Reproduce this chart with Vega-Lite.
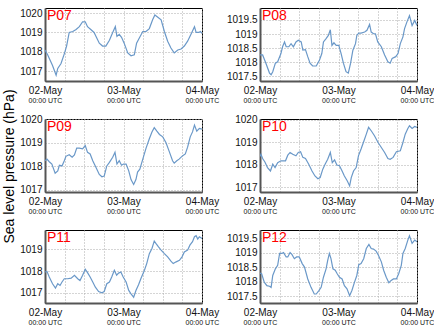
{
  "$schema": "https://vega.github.io/schema/vega-lite/v6.json",
  "padding": {"left": 3, "top": 7, "right": 5, "bottom": 2},
  "background": "white",
  "title": {"text": "Sea level pressure (hPa)", "orient": "left", "anchor": "middle", "fontSize": 14, "fontWeight": "normal", "font": "Liberation Sans", "color": "#000", "offset": 2},
  "datasets": {
    "p07": [
      {"t":"2024-05-02T00:00:00Z","v":1018.1},{"t":"2024-05-02T00:48:00Z","v":1017.85},{"t":"2024-05-02T02:18:00Z","v":1017.3},{"t":"2024-05-02T03:24:00Z","v":1016.8},{"t":"2024-05-02T03:54:00Z","v":1017.15},{"t":"2024-05-02T04:54:00Z","v":1017.4},{"t":"2024-05-02T05:54:00Z","v":1017.9},{"t":"2024-05-02T06:36:00Z","v":1018.3},{"t":"2024-05-02T07:24:00Z","v":1019.0},{"t":"2024-05-02T08:30:00Z","v":1019.05},{"t":"2024-05-02T09:30:00Z","v":1019.15},{"t":"2024-05-02T10:30:00Z","v":1019.3},{"t":"2024-05-02T11:30:00Z","v":1019.55},{"t":"2024-05-02T12:18:00Z","v":1019.55},{"t":"2024-05-02T13:00:00Z","v":1019.3},{"t":"2024-05-02T14:00:00Z","v":1019.15},{"t":"2024-05-02T15:00:00Z","v":1019.0},{"t":"2024-05-02T16:36:00Z","v":1018.45},{"t":"2024-05-02T17:36:00Z","v":1018.3},{"t":"2024-05-02T18:36:00Z","v":1018.3},{"t":"2024-05-02T19:42:00Z","v":1018.6},{"t":"2024-05-02T20:42:00Z","v":1019.0},{"t":"2024-05-02T21:30:00Z","v":1019.3},{"t":"2024-05-02T22:00:00Z","v":1018.8},{"t":"2024-05-02T22:42:00Z","v":1018.9},{"t":"2024-05-02T23:24:00Z","v":1018.75},{"t":"2024-05-03T00:12:00Z","v":1018.45},{"t":"2024-05-03T01:18:00Z","v":1017.95},{"t":"2024-05-03T02:18:00Z","v":1017.8},{"t":"2024-05-03T03:18:00Z","v":1017.85},{"t":"2024-05-03T04:00:00Z","v":1018.45},{"t":"2024-05-03T04:48:00Z","v":1018.7},{"t":"2024-05-03T05:54:00Z","v":1019.05},{"t":"2024-05-03T06:54:00Z","v":1019.05},{"t":"2024-05-03T07:54:00Z","v":1019.2},{"t":"2024-05-03T08:54:00Z","v":1019.65},{"t":"2024-05-03T09:36:00Z","v":1019.9},{"t":"2024-05-03T10:24:00Z","v":1019.8},{"t":"2024-05-03T11:30:00Z","v":1019.65},{"t":"2024-05-03T12:30:00Z","v":1019.05},{"t":"2024-05-03T13:30:00Z","v":1018.55},{"t":"2024-05-03T14:30:00Z","v":1018.2},{"t":"2024-05-03T15:30:00Z","v":1017.95},{"t":"2024-05-03T16:36:00Z","v":1018.1},{"t":"2024-05-03T17:36:00Z","v":1018.15},{"t":"2024-05-03T18:36:00Z","v":1018.3},{"t":"2024-05-03T19:36:00Z","v":1018.55},{"t":"2024-05-03T20:36:00Z","v":1018.9},{"t":"2024-05-03T21:42:00Z","v":1019.3},{"t":"2024-05-03T22:12:00Z","v":1019.0},{"t":"2024-05-03T23:00:00Z","v":1019.0},{"t":"2024-05-03T23:30:00Z","v":1019.05},{"t":"2024-05-04T00:00:00Z","v":1018.95}
    ],
    "p08": [
      {"t":"2024-05-02T00:00:00Z","v":1018.26},{"t":"2024-05-02T00:48:00Z","v":1018.26},{"t":"2024-05-02T01:48:00Z","v":1017.97},{"t":"2024-05-02T02:54:00Z","v":1017.62},{"t":"2024-05-02T03:24:00Z","v":1017.56},{"t":"2024-05-02T03:54:00Z","v":1017.67},{"t":"2024-05-02T04:42:00Z","v":1017.97},{"t":"2024-05-02T05:24:00Z","v":1018.02},{"t":"2024-05-02T06:24:00Z","v":1018.31},{"t":"2024-05-02T06:54:00Z","v":1018.55},{"t":"2024-05-02T07:30:00Z","v":1018.72},{"t":"2024-05-02T08:00:00Z","v":1018.55},{"t":"2024-05-02T08:48:00Z","v":1018.55},{"t":"2024-05-02T09:30:00Z","v":1018.66},{"t":"2024-05-02T10:12:00Z","v":1018.55},{"t":"2024-05-02T11:00:00Z","v":1018.72},{"t":"2024-05-02T11:42:00Z","v":1018.78},{"t":"2024-05-02T12:36:00Z","v":1018.72},{"t":"2024-05-02T13:06:00Z","v":1018.43},{"t":"2024-05-02T13:54:00Z","v":1018.45},{"t":"2024-05-02T14:36:00Z","v":1018.2},{"t":"2024-05-02T15:18:00Z","v":1017.97},{"t":"2024-05-02T16:06:00Z","v":1017.87},{"t":"2024-05-02T17:12:00Z","v":1017.87},{"t":"2024-05-02T18:12:00Z","v":1018.08},{"t":"2024-05-02T18:54:00Z","v":1018.31},{"t":"2024-05-02T19:24:00Z","v":1018.72},{"t":"2024-05-02T20:12:00Z","v":1018.84},{"t":"2024-05-02T20:54:00Z","v":1018.95},{"t":"2024-05-02T21:30:00Z","v":1019.15},{"t":"2024-05-02T22:00:00Z","v":1018.6},{"t":"2024-05-02T22:36:00Z","v":1018.69},{"t":"2024-05-02T23:18:00Z","v":1018.6},{"t":"2024-05-03T00:06:00Z","v":1018.6},{"t":"2024-05-03T00:48:00Z","v":1018.31},{"t":"2024-05-03T01:30:00Z","v":1017.97},{"t":"2024-05-03T02:18:00Z","v":1017.67},{"t":"2024-05-03T03:00:00Z","v":1017.62},{"t":"2024-05-03T03:42:00Z","v":1017.97},{"t":"2024-05-03T04:24:00Z","v":1018.43},{"t":"2024-05-03T05:12:00Z","v":1018.66},{"t":"2024-05-03T05:36:00Z","v":1018.95},{"t":"2024-05-03T06:12:00Z","v":1019.03},{"t":"2024-05-03T06:54:00Z","v":1019.03},{"t":"2024-05-03T08:00:00Z","v":1019.07},{"t":"2024-05-03T08:42:00Z","v":1019.13},{"t":"2024-05-03T09:30:00Z","v":1019.34},{"t":"2024-05-03T10:00:00Z","v":1019.07},{"t":"2024-05-03T10:42:00Z","v":1019.01},{"t":"2024-05-03T11:18:00Z","v":1019.01},{"t":"2024-05-03T12:00:00Z","v":1018.72},{"t":"2024-05-03T13:06:00Z","v":1018.55},{"t":"2024-05-03T14:06:00Z","v":1018.26},{"t":"2024-05-03T15:06:00Z","v":1018.02},{"t":"2024-05-03T15:48:00Z","v":1017.97},{"t":"2024-05-03T16:24:00Z","v":1018.14},{"t":"2024-05-03T17:30:00Z","v":1018.2},{"t":"2024-05-03T18:12:00Z","v":1018.31},{"t":"2024-05-03T18:54:00Z","v":1018.66},{"t":"2024-05-03T19:42:00Z","v":1018.9},{"t":"2024-05-03T20:12:00Z","v":1019.19},{"t":"2024-05-03T20:54:00Z","v":1019.42},{"t":"2024-05-03T21:42:00Z","v":1019.65},{"t":"2024-05-03T22:30:00Z","v":1019.3},{"t":"2024-05-03T23:18:00Z","v":1019.48},{"t":"2024-05-04T00:00:00Z","v":1019.3}
    ],
    "p09": [
      {"t":"2024-05-02T00:00:00Z","v":1018.23},{"t":"2024-05-02T00:36:00Z","v":1018.3},{"t":"2024-05-02T01:18:00Z","v":1018.19},{"t":"2024-05-02T02:06:00Z","v":1018.09},{"t":"2024-05-02T03:06:00Z","v":1017.7},{"t":"2024-05-02T03:54:00Z","v":1017.8},{"t":"2024-05-02T04:24:00Z","v":1018.04},{"t":"2024-05-02T05:12:00Z","v":1018.01},{"t":"2024-05-02T05:54:00Z","v":1018.23},{"t":"2024-05-02T06:24:00Z","v":1018.42},{"t":"2024-05-02T07:24:00Z","v":1018.49},{"t":"2024-05-02T08:18:00Z","v":1018.38},{"t":"2024-05-02T09:00:00Z","v":1018.48},{"t":"2024-05-02T09:42:00Z","v":1018.77},{"t":"2024-05-02T10:30:00Z","v":1018.77},{"t":"2024-05-02T11:30:00Z","v":1018.74},{"t":"2024-05-02T12:18:00Z","v":1018.88},{"t":"2024-05-02T13:00:00Z","v":1018.59},{"t":"2024-05-02T13:48:00Z","v":1018.52},{"t":"2024-05-02T14:36:00Z","v":1018.23},{"t":"2024-05-02T15:36:00Z","v":1017.94},{"t":"2024-05-02T16:36:00Z","v":1017.65},{"t":"2024-05-02T17:24:00Z","v":1017.55},{"t":"2024-05-02T18:06:00Z","v":1017.58},{"t":"2024-05-02T18:54:00Z","v":1018.01},{"t":"2024-05-02T19:42:00Z","v":1018.16},{"t":"2024-05-02T20:42:00Z","v":1018.38},{"t":"2024-05-02T21:24:00Z","v":1018.59},{"t":"2024-05-02T22:00:00Z","v":1018.09},{"t":"2024-05-02T22:42:00Z","v":1018.23},{"t":"2024-05-02T23:24:00Z","v":1018.04},{"t":"2024-05-03T00:00:00Z","v":1018.09},{"t":"2024-05-03T00:48:00Z","v":1018.09},{"t":"2024-05-03T01:36:00Z","v":1017.8},{"t":"2024-05-03T02:18:00Z","v":1017.43},{"t":"2024-05-03T03:06:00Z","v":1017.22},{"t":"2024-05-03T03:48:00Z","v":1017.43},{"t":"2024-05-03T04:18:00Z","v":1017.75},{"t":"2024-05-03T05:00:00Z","v":1017.87},{"t":"2024-05-03T05:54:00Z","v":1018.3},{"t":"2024-05-03T06:54:00Z","v":1018.77},{"t":"2024-05-03T07:54:00Z","v":1019.17},{"t":"2024-05-03T08:42:00Z","v":1019.46},{"t":"2024-05-03T09:24:00Z","v":1019.64},{"t":"2024-05-03T10:12:00Z","v":1019.49},{"t":"2024-05-03T11:00:00Z","v":1019.35},{"t":"2024-05-03T12:00:00Z","v":1019.25},{"t":"2024-05-03T13:00:00Z","v":1019.0},{"t":"2024-05-03T14:00:00Z","v":1018.62},{"t":"2024-05-03T15:00:00Z","v":1018.23},{"t":"2024-05-03T15:30:00Z","v":1018.13},{"t":"2024-05-03T16:18:00Z","v":1018.23},{"t":"2024-05-03T17:00:00Z","v":1018.3},{"t":"2024-05-03T18:06:00Z","v":1018.45},{"t":"2024-05-03T18:54:00Z","v":1018.52},{"t":"2024-05-03T19:36:00Z","v":1018.81},{"t":"2024-05-03T20:24:00Z","v":1019.25},{"t":"2024-05-03T21:06:00Z","v":1019.46},{"t":"2024-05-03T21:42:00Z","v":1019.75},{"t":"2024-05-03T22:24:00Z","v":1019.49},{"t":"2024-05-03T23:12:00Z","v":1019.61},{"t":"2024-05-04T00:00:00Z","v":1019.58}
    ],
    "p10": [
      {"t":"2024-05-02T00:00:00Z","v":1018.37},{"t":"2024-05-02T00:18:00Z","v":1018.47},{"t":"2024-05-02T00:48:00Z","v":1018.28},{"t":"2024-05-02T01:30:00Z","v":1018.13},{"t":"2024-05-02T02:18:00Z","v":1017.88},{"t":"2024-05-02T03:12:00Z","v":1017.73},{"t":"2024-05-02T03:54:00Z","v":1018.03},{"t":"2024-05-02T04:36:00Z","v":1017.88},{"t":"2024-05-02T05:24:00Z","v":1018.1},{"t":"2024-05-02T06:24:00Z","v":1018.18},{"t":"2024-05-02T07:48:00Z","v":1018.18},{"t":"2024-05-02T08:30:00Z","v":1018.43},{"t":"2024-05-02T09:12:00Z","v":1018.55},{"t":"2024-05-02T10:00:00Z","v":1018.47},{"t":"2024-05-02T11:00:00Z","v":1018.4},{"t":"2024-05-02T11:42:00Z","v":1018.55},{"t":"2024-05-02T12:24:00Z","v":1018.58},{"t":"2024-05-02T13:06:00Z","v":1018.33},{"t":"2024-05-02T13:54:00Z","v":1018.28},{"t":"2024-05-02T14:54:00Z","v":1018.03},{"t":"2024-05-02T15:54:00Z","v":1017.73},{"t":"2024-05-02T16:48:00Z","v":1017.51},{"t":"2024-05-02T17:42:00Z","v":1017.39},{"t":"2024-05-02T18:24:00Z","v":1017.44},{"t":"2024-05-02T19:12:00Z","v":1017.81},{"t":"2024-05-02T19:54:00Z","v":1018.03},{"t":"2024-05-02T20:42:00Z","v":1018.25},{"t":"2024-05-02T21:30:00Z","v":1018.55},{"t":"2024-05-02T22:06:00Z","v":1018.1},{"t":"2024-05-02T22:48:00Z","v":1018.22},{"t":"2024-05-02T23:30:00Z","v":1017.99},{"t":"2024-05-03T00:18:00Z","v":1017.96},{"t":"2024-05-03T01:06:00Z","v":1017.73},{"t":"2024-05-03T01:48:00Z","v":1017.51},{"t":"2024-05-03T02:42:00Z","v":1017.29},{"t":"2024-05-03T03:24:00Z","v":1017.07},{"t":"2024-05-03T03:54:00Z","v":1017.44},{"t":"2024-05-03T04:36:00Z","v":1017.73},{"t":"2024-05-03T05:24:00Z","v":1017.88},{"t":"2024-05-03T06:06:00Z","v":1018.4},{"t":"2024-05-03T06:54:00Z","v":1018.7},{"t":"2024-05-03T07:48:00Z","v":1019.07},{"t":"2024-05-03T08:30:00Z","v":1019.36},{"t":"2024-05-03T09:12:00Z","v":1019.66},{"t":"2024-05-03T10:00:00Z","v":1019.51},{"t":"2024-05-03T11:00:00Z","v":1019.29},{"t":"2024-05-03T12:06:00Z","v":1018.99},{"t":"2024-05-03T13:06:00Z","v":1018.77},{"t":"2024-05-03T14:06:00Z","v":1018.55},{"t":"2024-05-03T15:06:00Z","v":1018.28},{"t":"2024-05-03T15:48:00Z","v":1018.25},{"t":"2024-05-03T16:42:00Z","v":1018.33},{"t":"2024-05-03T17:42:00Z","v":1018.58},{"t":"2024-05-03T18:54:00Z","v":1018.62},{"t":"2024-05-03T19:42:00Z","v":1018.99},{"t":"2024-05-03T20:24:00Z","v":1019.36},{"t":"2024-05-03T21:12:00Z","v":1019.61},{"t":"2024-05-03T21:42:00Z","v":1019.73},{"t":"2024-05-03T22:30:00Z","v":1019.61},{"t":"2024-05-03T23:18:00Z","v":1019.7},{"t":"2024-05-04T00:00:00Z","v":1019.66}
    ],
    "p11": [
      {"t":"2024-05-02T00:00:00Z","v":1017.96},{"t":"2024-05-02T00:36:00Z","v":1017.99},{"t":"2024-05-02T01:18:00Z","v":1017.73},{"t":"2024-05-02T02:18:00Z","v":1017.42},{"t":"2024-05-02T03:12:00Z","v":1017.22},{"t":"2024-05-02T03:54:00Z","v":1017.42},{"t":"2024-05-02T04:36:00Z","v":1017.34},{"t":"2024-05-02T05:12:00Z","v":1017.5},{"t":"2024-05-02T05:54:00Z","v":1017.65},{"t":"2024-05-02T06:54:00Z","v":1017.65},{"t":"2024-05-02T08:00:00Z","v":1017.68},{"t":"2024-05-02T09:00:00Z","v":1017.81},{"t":"2024-05-02T10:00:00Z","v":1017.65},{"t":"2024-05-02T10:42:00Z","v":1017.57},{"t":"2024-05-02T11:30:00Z","v":1017.81},{"t":"2024-05-02T12:18:00Z","v":1018.09},{"t":"2024-05-02T13:00:00Z","v":1017.93},{"t":"2024-05-02T13:48:00Z","v":1017.73},{"t":"2024-05-02T14:36:00Z","v":1017.5},{"t":"2024-05-02T15:24:00Z","v":1017.26},{"t":"2024-05-02T16:24:00Z","v":1017.06},{"t":"2024-05-02T17:24:00Z","v":1017.0},{"t":"2024-05-02T18:06:00Z","v":1017.06},{"t":"2024-05-02T18:54:00Z","v":1017.42},{"t":"2024-05-02T19:42:00Z","v":1017.5},{"t":"2024-05-02T20:24:00Z","v":1017.73},{"t":"2024-05-02T21:12:00Z","v":1018.04},{"t":"2024-05-02T21:54:00Z","v":1017.81},{"t":"2024-05-02T22:30:00Z","v":1017.91},{"t":"2024-05-02T23:12:00Z","v":1017.96},{"t":"2024-05-02T23:54:00Z","v":1017.73},{"t":"2024-05-03T00:48:00Z","v":1017.5},{"t":"2024-05-03T01:36:00Z","v":1017.11},{"t":"2024-05-03T02:18:00Z","v":1016.95},{"t":"2024-05-03T03:06:00Z","v":1016.8},{"t":"2024-05-03T03:48:00Z","v":1017.11},{"t":"2024-05-03T04:36:00Z","v":1017.37},{"t":"2024-05-03T05:18:00Z","v":1017.65},{"t":"2024-05-03T06:24:00Z","v":1018.04},{"t":"2024-05-03T07:06:00Z","v":1018.35},{"t":"2024-05-03T07:54:00Z","v":1018.81},{"t":"2024-05-03T08:42:00Z","v":1019.05},{"t":"2024-05-03T09:24:00Z","v":1019.39},{"t":"2024-05-03T09:54:00Z","v":1019.28},{"t":"2024-05-03T10:42:00Z","v":1019.12},{"t":"2024-05-03T11:30:00Z","v":1018.97},{"t":"2024-05-03T12:30:00Z","v":1018.81},{"t":"2024-05-03T13:30:00Z","v":1018.66},{"t":"2024-05-03T14:30:00Z","v":1018.46},{"t":"2024-05-03T15:12:00Z","v":1018.35},{"t":"2024-05-03T16:06:00Z","v":1018.43},{"t":"2024-05-03T17:06:00Z","v":1018.5},{"t":"2024-05-03T17:54:00Z","v":1018.66},{"t":"2024-05-03T18:36:00Z","v":1018.89},{"t":"2024-05-03T19:36:00Z","v":1018.97},{"t":"2024-05-03T20:18:00Z","v":1019.2},{"t":"2024-05-03T21:06:00Z","v":1019.36},{"t":"2024-05-03T21:42:00Z","v":1019.59},{"t":"2024-05-03T22:12:00Z","v":1019.64},{"t":"2024-05-03T22:42:00Z","v":1019.48},{"t":"2024-05-03T23:12:00Z","v":1019.59},{"t":"2024-05-04T00:00:00Z","v":1019.51}
    ],
    "p12": [
      {"t":"2024-05-02T00:00:00Z","v":1018.3},{"t":"2024-05-02T00:30:00Z","v":1018.28},{"t":"2024-05-02T01:18:00Z","v":1017.99},{"t":"2024-05-02T02:06:00Z","v":1017.87},{"t":"2024-05-02T02:54:00Z","v":1017.85},{"t":"2024-05-02T03:24:00Z","v":1017.81},{"t":"2024-05-02T03:54:00Z","v":1018.22},{"t":"2024-05-02T04:42:00Z","v":1018.45},{"t":"2024-05-02T05:24:00Z","v":1018.57},{"t":"2024-05-02T06:00:00Z","v":1018.98},{"t":"2024-05-02T06:36:00Z","v":1018.98},{"t":"2024-05-02T07:12:00Z","v":1019.01},{"t":"2024-05-02T08:00:00Z","v":1018.86},{"t":"2024-05-02T08:30:00Z","v":1018.86},{"t":"2024-05-02T09:12:00Z","v":1019.01},{"t":"2024-05-02T09:48:00Z","v":1018.94},{"t":"2024-05-02T10:30:00Z","v":1018.8},{"t":"2024-05-02T11:12:00Z","v":1018.86},{"t":"2024-05-02T12:00:00Z","v":1018.86},{"t":"2024-05-02T12:54:00Z","v":1018.63},{"t":"2024-05-02T13:36:00Z","v":1018.51},{"t":"2024-05-02T14:36:00Z","v":1018.1},{"t":"2024-05-02T15:36:00Z","v":1017.81},{"t":"2024-05-02T16:36:00Z","v":1017.58},{"t":"2024-05-02T17:12:00Z","v":1017.58},{"t":"2024-05-02T18:00:00Z","v":1017.7},{"t":"2024-05-02T18:42:00Z","v":1017.81},{"t":"2024-05-02T19:24:00Z","v":1018.16},{"t":"2024-05-02T20:12:00Z","v":1018.45},{"t":"2024-05-02T20:42:00Z","v":1018.74},{"t":"2024-05-02T21:12:00Z","v":1018.98},{"t":"2024-05-02T21:42:00Z","v":1018.8},{"t":"2024-05-02T22:18:00Z","v":1018.45},{"t":"2024-05-02T23:00:00Z","v":1018.4},{"t":"2024-05-02T23:36:00Z","v":1018.28},{"t":"2024-05-03T00:18:00Z","v":1018.16},{"t":"2024-05-03T01:06:00Z","v":1018.1},{"t":"2024-05-03T01:48:00Z","v":1017.87},{"t":"2024-05-03T02:36:00Z","v":1017.76},{"t":"2024-05-03T03:24:00Z","v":1017.52},{"t":"2024-05-03T04:06:00Z","v":1017.7},{"t":"2024-05-03T04:54:00Z","v":1017.99},{"t":"2024-05-03T05:36:00Z","v":1018.22},{"t":"2024-05-03T06:12:00Z","v":1018.59},{"t":"2024-05-03T06:54:00Z","v":1018.63},{"t":"2024-05-03T07:42:00Z","v":1018.8},{"t":"2024-05-03T08:30:00Z","v":1019.15},{"t":"2024-05-03T09:18:00Z","v":1019.29},{"t":"2024-05-03T10:00:00Z","v":1019.15},{"t":"2024-05-03T10:42:00Z","v":1019.13},{"t":"2024-05-03T11:30:00Z","v":1019.06},{"t":"2024-05-03T12:12:00Z","v":1018.92},{"t":"2024-05-03T13:06:00Z","v":1018.69},{"t":"2024-05-03T13:48:00Z","v":1018.4},{"t":"2024-05-03T14:36:00Z","v":1018.16},{"t":"2024-05-03T15:24:00Z","v":1017.97},{"t":"2024-05-03T16:06:00Z","v":1018.05},{"t":"2024-05-03T16:48:00Z","v":1018.1},{"t":"2024-05-03T17:42:00Z","v":1018.1},{"t":"2024-05-03T18:24:00Z","v":1018.28},{"t":"2024-05-03T19:12:00Z","v":1018.57},{"t":"2024-05-03T19:42:00Z","v":1018.98},{"t":"2024-05-03T20:24:00Z","v":1019.15},{"t":"2024-05-03T21:12:00Z","v":1019.44},{"t":"2024-05-03T21:42:00Z","v":1019.59},{"t":"2024-05-03T22:30:00Z","v":1019.33},{"t":"2024-05-03T23:18:00Z","v":1019.44},{"t":"2024-05-04T00:00:00Z","v":1019.38}
    ]
  },
  "columns": 2,
  "spacing": {"row": 38, "column": 58},
  "bounds": "flush",
  "concat": [
    {
      "width": 157, "height": 73,
      "layer": [
        {"data": {"name": "p07"}, "mark": {"type": "line", "color": "#6a98c8", "strokeWidth": 1.2, "clip": true},
         "encoding": {
           "x": {"field": "t", "type": "temporal", "scale": {"type": "utc", "domain": [1714608000000, 1714780800000]},
                 "axis": {"orient": "bottom", "title": null, "tickCount": 20, "values": [1714608000000, 1714629600000, 1714651200000, 1714672800000, 1714694400000, 1714716000000, 1714737600000, 1714759200000, 1714780800000], "labelExpr": "utchours(datum.value) == 0 ? utcFormat(datum.value, '%d-%b') : ''", "grid": true, "ticks": false, "gridDash": [1, 2], "gridColor": "#aaa", "labelFontSize": 10, "labelColor": "#111", "labelPadding": 4, "labelFlush": false, "labelOverlap": false, "domainColor": "#555", "domainWidth": 2}},
           "y": {"field": "v", "type": "quantitative", "scale": {"domain": [1016.5, 1020.26], "nice": false, "zero": false},
                 "axis": {"title": null, "tickCount": 20, "values": [1017, 1018, 1019, 1020], "format": ".1~f", "grid": true, "ticks": false, "gridDash": [1, 2], "gridColor": "#aaa", "labelFontSize": 10, "labelColor": "#111", "labelPadding": 3, "labelOverlap": false, "domainColor": "#555", "domainWidth": 2}}
         }},
        {"data": {"values": [{"t": "2024-05-02T00:00:00Z", "v": 1020.26, "lab": "P07"}]},
         "mark": {"type": "text", "align": "left", "baseline": "top", "dx": 2, "dy": 1, "color": "#ff0000", "fontSize": 14},
         "encoding": {
           "x": {"field": "t", "type": "temporal", "axis": {"orient": "bottom", "title": null, "tickCount": 20, "values": [1714608000000, 1714694400000, 1714780800000], "labelExpr": "'00:00 UTC'", "grid": false, "ticks": false, "domain": false, "labelFontSize": 7, "labelColor": "#111", "labelPadding": 15, "labelFlush": false, "labelOverlap": false}},
           "y": {"field": "v", "type": "quantitative"},
           "text": {"field": "lab"}
         }}
      ],
      "resolve": {"axis": {"x": "independent"}}
    },
    {
      "width": 157, "height": 73,
      "layer": [
        {"data": {"name": "p08"}, "mark": {"type": "line", "color": "#6a98c8", "strokeWidth": 1.2, "clip": true},
         "encoding": {
           "x": {"field": "t", "type": "temporal", "scale": {"type": "utc", "domain": [1714608000000, 1714780800000]},
                 "axis": {"orient": "bottom", "title": null, "tickCount": 20, "values": [1714608000000, 1714629600000, 1714651200000, 1714672800000, 1714694400000, 1714716000000, 1714737600000, 1714759200000, 1714780800000], "labelExpr": "utchours(datum.value) == 0 ? utcFormat(datum.value, '%d-%b') : ''", "grid": true, "ticks": false, "gridDash": [1, 2], "gridColor": "#aaa", "labelFontSize": 10, "labelColor": "#111", "labelPadding": 4, "labelFlush": false, "labelOverlap": false, "domainColor": "#555", "domainWidth": 2}},
           "y": {"field": "v", "type": "quantitative", "scale": {"domain": [1017.34, 1019.92], "nice": false, "zero": false},
                 "axis": {"title": null, "tickCount": 20, "values": [1017.5, 1018, 1018.5, 1019, 1019.5], "format": ".1~f", "grid": true, "ticks": false, "gridDash": [1, 2], "gridColor": "#aaa", "labelFontSize": 10, "labelColor": "#111", "labelPadding": 3, "labelOverlap": false, "domainColor": "#555", "domainWidth": 2}}
         }},
        {"data": {"values": [{"t": "2024-05-02T00:00:00Z", "v": 1019.92, "lab": "P08"}]},
         "mark": {"type": "text", "align": "left", "baseline": "top", "dx": 2, "dy": 1, "color": "#ff0000", "fontSize": 14},
         "encoding": {
           "x": {"field": "t", "type": "temporal", "axis": {"orient": "bottom", "title": null, "tickCount": 20, "values": [1714608000000, 1714694400000, 1714780800000], "labelExpr": "'00:00 UTC'", "grid": false, "ticks": false, "domain": false, "labelFontSize": 7, "labelColor": "#111", "labelPadding": 15, "labelFlush": false, "labelOverlap": false}},
           "y": {"field": "v", "type": "quantitative"},
           "text": {"field": "lab"}
         }}
      ],
      "resolve": {"axis": {"x": "independent"}}
    },
    {
      "width": 157, "height": 73,
      "layer": [
        {"data": {"name": "p09"}, "mark": {"type": "line", "color": "#6a98c8", "strokeWidth": 1.2, "clip": true},
         "encoding": {
           "x": {"field": "t", "type": "temporal", "scale": {"type": "utc", "domain": [1714608000000, 1714780800000]},
                 "axis": {"orient": "bottom", "title": null, "tickCount": 20, "values": [1714608000000, 1714629600000, 1714651200000, 1714672800000, 1714694400000, 1714716000000, 1714737600000, 1714759200000, 1714780800000], "labelExpr": "utchours(datum.value) == 0 ? utcFormat(datum.value, '%d-%b') : ''", "grid": true, "ticks": false, "gridDash": [1, 2], "gridColor": "#aaa", "labelFontSize": 10, "labelColor": "#111", "labelPadding": 4, "labelFlush": false, "labelOverlap": false, "domainColor": "#555", "domainWidth": 2}},
           "y": {"field": "v", "type": "quantitative", "scale": {"domain": [1016.9, 1020.01], "nice": false, "zero": false},
                 "axis": {"title": null, "tickCount": 20, "values": [1017, 1018, 1019, 1020], "format": ".1~f", "grid": true, "ticks": false, "gridDash": [1, 2], "gridColor": "#aaa", "labelFontSize": 10, "labelColor": "#111", "labelPadding": 3, "labelOverlap": false, "domainColor": "#555", "domainWidth": 2}}
         }},
        {"data": {"values": [{"t": "2024-05-02T00:00:00Z", "v": 1020.01, "lab": "P09"}]},
         "mark": {"type": "text", "align": "left", "baseline": "top", "dx": 2, "dy": 1, "color": "#ff0000", "fontSize": 14},
         "encoding": {
           "x": {"field": "t", "type": "temporal", "axis": {"orient": "bottom", "title": null, "tickCount": 20, "values": [1714608000000, 1714694400000, 1714780800000], "labelExpr": "'00:00 UTC'", "grid": false, "ticks": false, "domain": false, "labelFontSize": 7, "labelColor": "#111", "labelPadding": 15, "labelFlush": false, "labelOverlap": false}},
           "y": {"field": "v", "type": "quantitative"},
           "text": {"field": "lab"}
         }}
      ],
      "resolve": {"axis": {"x": "independent"}}
    },
    {
      "width": 157, "height": 73,
      "layer": [
        {"data": {"name": "p10"}, "mark": {"type": "line", "color": "#6a98c8", "strokeWidth": 1.2, "clip": true},
         "encoding": {
           "x": {"field": "t", "type": "temporal", "scale": {"type": "utc", "domain": [1714608000000, 1714780800000]},
                 "axis": {"orient": "bottom", "title": null, "tickCount": 20, "values": [1714608000000, 1714629600000, 1714651200000, 1714672800000, 1714694400000, 1714716000000, 1714737600000, 1714759200000, 1714780800000], "labelExpr": "utchours(datum.value) == 0 ? utcFormat(datum.value, '%d-%b') : ''", "grid": true, "ticks": false, "gridDash": [1, 2], "gridColor": "#aaa", "labelFontSize": 10, "labelColor": "#111", "labelPadding": 4, "labelFlush": false, "labelOverlap": false, "domainColor": "#555", "domainWidth": 2}},
           "y": {"field": "v", "type": "quantitative", "scale": {"domain": [1016.8, 1020.03], "nice": false, "zero": false},
                 "axis": {"title": null, "tickCount": 20, "values": [1017, 1018, 1019, 1020], "format": ".1~f", "grid": true, "ticks": false, "gridDash": [1, 2], "gridColor": "#aaa", "labelFontSize": 10, "labelColor": "#111", "labelPadding": 3, "labelOverlap": false, "domainColor": "#555", "domainWidth": 2}}
         }},
        {"data": {"values": [{"t": "2024-05-02T00:00:00Z", "v": 1020.03, "lab": "P10"}]},
         "mark": {"type": "text", "align": "left", "baseline": "top", "dx": 2, "dy": 1, "color": "#ff0000", "fontSize": 14},
         "encoding": {
           "x": {"field": "t", "type": "temporal", "axis": {"orient": "bottom", "title": null, "tickCount": 20, "values": [1714608000000, 1714694400000, 1714780800000], "labelExpr": "'00:00 UTC'", "grid": false, "ticks": false, "domain": false, "labelFontSize": 7, "labelColor": "#111", "labelPadding": 15, "labelFlush": false, "labelOverlap": false}},
           "y": {"field": "v", "type": "quantitative"},
           "text": {"field": "lab"}
         }}
      ],
      "resolve": {"axis": {"x": "independent"}}
    },
    {
      "width": 157, "height": 73,
      "layer": [
        {"data": {"name": "p11"}, "mark": {"type": "line", "color": "#6a98c8", "strokeWidth": 1.2, "clip": true},
         "encoding": {
           "x": {"field": "t", "type": "temporal", "scale": {"type": "utc", "domain": [1714608000000, 1714780800000]},
                 "axis": {"orient": "bottom", "title": null, "tickCount": 20, "values": [1714608000000, 1714629600000, 1714651200000, 1714672800000, 1714694400000, 1714716000000, 1714737600000, 1714759200000, 1714780800000], "labelExpr": "utchours(datum.value) == 0 ? utcFormat(datum.value, '%d-%b') : ''", "grid": true, "ticks": false, "gridDash": [1, 2], "gridColor": "#aaa", "labelFontSize": 10, "labelColor": "#111", "labelPadding": 4, "labelFlush": false, "labelOverlap": false, "domainColor": "#555", "domainWidth": 2}},
           "y": {"field": "v", "type": "quantitative", "scale": {"domain": [1016.53, 1019.9], "nice": false, "zero": false},
                 "axis": {"title": null, "tickCount": 20, "values": [1017, 1018, 1019], "format": ".1~f", "grid": true, "ticks": false, "gridDash": [1, 2], "gridColor": "#aaa", "labelFontSize": 10, "labelColor": "#111", "labelPadding": 3, "labelOverlap": false, "domainColor": "#555", "domainWidth": 2}}
         }},
        {"data": {"values": [{"t": "2024-05-02T00:00:00Z", "v": 1019.9, "lab": "P11"}]},
         "mark": {"type": "text", "align": "left", "baseline": "top", "dx": 2, "dy": 1, "color": "#ff0000", "fontSize": 14},
         "encoding": {
           "x": {"field": "t", "type": "temporal", "axis": {"orient": "bottom", "title": null, "tickCount": 20, "values": [1714608000000, 1714694400000, 1714780800000], "labelExpr": "'00:00 UTC'", "grid": false, "ticks": false, "domain": false, "labelFontSize": 7, "labelColor": "#111", "labelPadding": 15, "labelFlush": false, "labelOverlap": false}},
           "y": {"field": "v", "type": "quantitative"},
           "text": {"field": "lab"}
         }}
      ],
      "resolve": {"axis": {"x": "independent"}}
    },
    {
      "width": 157, "height": 73,
      "layer": [
        {"data": {"name": "p12"}, "mark": {"type": "line", "color": "#6a98c8", "strokeWidth": 1.2, "clip": true},
         "encoding": {
           "x": {"field": "t", "type": "temporal", "scale": {"type": "utc", "domain": [1714608000000, 1714780800000]},
                 "axis": {"orient": "bottom", "title": null, "tickCount": 20, "values": [1714608000000, 1714629600000, 1714651200000, 1714672800000, 1714694400000, 1714716000000, 1714737600000, 1714759200000, 1714780800000], "labelExpr": "utchours(datum.value) == 0 ? utcFormat(datum.value, '%d-%b') : ''", "grid": true, "ticks": false, "gridDash": [1, 2], "gridColor": "#aaa", "labelFontSize": 10, "labelColor": "#111", "labelPadding": 4, "labelFlush": false, "labelOverlap": false, "domainColor": "#555", "domainWidth": 2}},
           "y": {"field": "v", "type": "quantitative", "scale": {"domain": [1017.27, 1019.79], "nice": false, "zero": false},
                 "axis": {"title": null, "tickCount": 20, "values": [1017.5, 1018, 1018.5, 1019, 1019.5], "format": ".1~f", "grid": true, "ticks": false, "gridDash": [1, 2], "gridColor": "#aaa", "labelFontSize": 10, "labelColor": "#111", "labelPadding": 3, "labelOverlap": false, "domainColor": "#555", "domainWidth": 2}}
         }},
        {"data": {"values": [{"t": "2024-05-02T00:00:00Z", "v": 1019.79, "lab": "P12"}]},
         "mark": {"type": "text", "align": "left", "baseline": "top", "dx": 2, "dy": 1, "color": "#ff0000", "fontSize": 14},
         "encoding": {
           "x": {"field": "t", "type": "temporal", "axis": {"orient": "bottom", "title": null, "tickCount": 20, "values": [1714608000000, 1714694400000, 1714780800000], "labelExpr": "'00:00 UTC'", "grid": false, "ticks": false, "domain": false, "labelFontSize": 7, "labelColor": "#111", "labelPadding": 15, "labelFlush": false, "labelOverlap": false}},
           "y": {"field": "v", "type": "quantitative"},
           "text": {"field": "lab"}
         }}
      ],
      "resolve": {"axis": {"x": "independent"}}
    }
  ],
  "config": {
    "font": "Liberation Sans",
    "view": {"stroke": "#000", "strokeWidth": 1}
  }
}
